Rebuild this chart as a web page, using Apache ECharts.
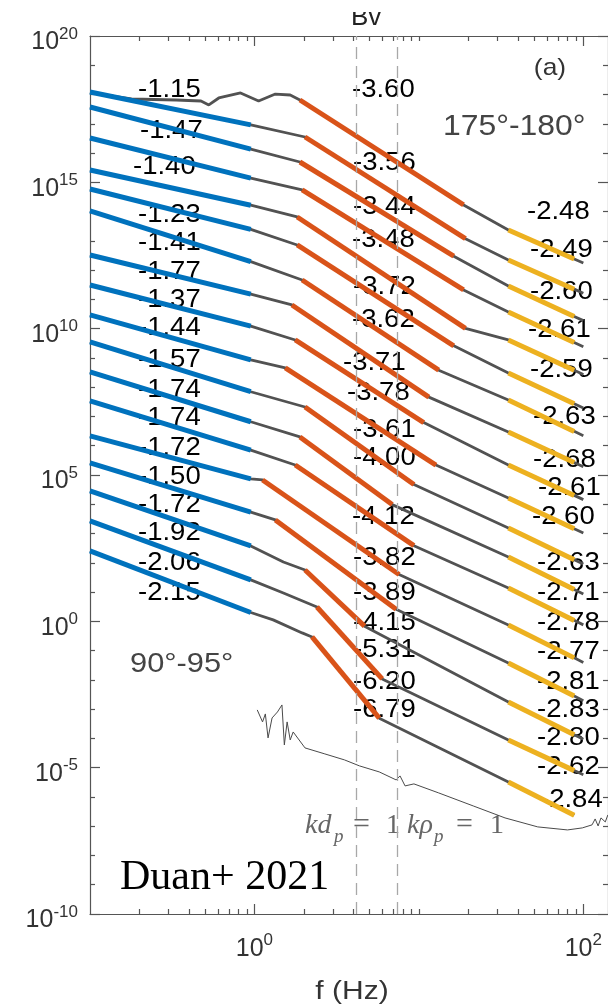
<!DOCTYPE html>
<html>
<head>
<meta charset="utf-8">
<script src="https://cdn.jsdelivr.net/npm/echarts@6.0.0/dist/echarts.min.js"></script>
<style>
  html, body { margin: 0; padding: 0; background: #fff; }
  #chart { width: 608px; height: 1005px; }
</style>
</head>
<body>
<div id="chart"></div>
<script>
// ---- Power spectra [f (Hz), PSD], one per angle bin, 175°-180° (top) to 90°-95° (bottom), shifted apart ----
const psd01 = [[0.1,1.13e18],[0.179,7.05e17],[0.334,6.50e17],[0.473,6.01e17],[0.528,4.40e17],[0.607,7.62e17],[0.823,1.13e18],[1.06,6.01e17],[1.34,1.04e18],[1.65,9.64e17],[1.89,6.50e17],[18.7,1.69e14],[35,2.36e13],[88,2.40e12],[100,1.75e12]];
const psd02 = [[0.1,1.22e18],[0.95,9.18e16],[2.03,3.54e16],[19.2,1.19e13],[35,2.22e12],[88,2.24e11],[100,1.63e11]];
const psd03 = [[0.1,3.75e17],[0.95,1.37e16],[1.89,4.95e15],[16.3,2.99e12],[35,2.88e11],[88,2.62e10],[100,1.88e10]];
const psd04 = [[0.1,3.27e16],[0.95,1.40e15],[1.95,5.48e14],[18.7,2.10e11],[35,3.72e10],[88,3.37e9],[100,2.41e9]];
const psd05 = [[0.1,2.64e15],[0.95,1.66e14],[1.82,6.55e13],[19.2,1.02e10],[35,4.11e9],[88,3.78e8],[100,2.72e8]];
const psd06 = [[0.1,5.93e14],[0.95,2.48e13],[1.82,7.24e12],[16.3,2.59e9],[35,3.06e8],[88,2.72e7],[100,1.94e7]];
const psd07 = [[0.1,1.05e14],[0.95,1.95e12],[1.95,4.61e11],[13.2,3.82e8],[35,3.66e7],[88,3.10e6],[100,2.20e6]];
const psd08 = [[0.1,3.30e12],[0.95,1.51e11],[1.69,6.46e10],[11.5,4.59e7],[35,2.96e6],[88,2.67e5],[100,1.91e5]];
const psd09 = [[0.1,3.11e11],[0.95,1.22e10],[1.77,4.11e9],[10.7,6.21e6],[35,2.20e5],[88,2.01e4],[100,1.44e4]];
const psd10 = [[0.1,2.94e10],[0.95,8.57e8],[1.54,4.54e8],[12.7,2.19e5],[35,1.64e4],[88,1.46e3],[100,1.04e3]];
const psd11 = [[0.1,3.52e9],[0.95,6.98e7],[2.03,2.11e7],[9.33,4.74e4],[35,1.55e3],[88,128],[100,90.6]];
const psd12 = [[0.1,3.32e8],[0.95,6.59e6],[1.89,2.0e6],[6.88,9.73e3],[35,158],[88,12.2],[100,8.59]];
const psd13 = [[0.1,3.39e7],[0.95,7.05e5],[1.77,2.20e5],[9.33,385],[35,13.8],[88,1.08],[100,0.757]];
const psd14 = [[0.1,2.16e6],[0.95,7.36e4],[1.12,6.78e4],[7.58,39.9],[35,0.753],[88,0.0566],[100,0.0395]];
const psd15 = [[0.1,2.58e5],[0.95,5.37e3],[1.34,2.91e3],[7.27,2.61],[35,0.0379],[88,2.80e-3],[100,1.95e-3]];
const psd16 = [[0.1,2.85e4],[0.95,378],[1.50,107],[2.03,57.0],[4.67,0.682],[35,1.76e-3],[88,1.34e-4],[100,9.35e-5]];
const psd17 = [[0.1,2.69e3],[0.95,26.0],[1.50,9.33],[2.40,3.10],[5.98,0.0108],[35,8.87e-5],[88,7.94e-6],[100,5.69e-6]];
const psd18 = [[0.1,254],[0.95,2.0],[1.30,1.12],[1.95,0.402],[2.24,0.293],[5.74,4.92e-4],[35,3.26e-6],[88,2.38e-7]];
const spectra = [psd01,psd02,psd03,psd04,psd05,psd06,psd07,psd08,psd09,psd10,psd11,psd12,psd13,psd14,psd15,psd16,psd17,psd18];

// Instrument noise floor
const noiseFloor = [[1.04,9.4e-4],[1.12,3.66e-4],[1.165,6.86e-4],[1.21,1.04e-4],[1.28,5.0e-4],[1.38,8.0e-4],[1.47,1.39e-3],[1.52,5.98e-5],[1.58,3.66e-4],[1.65,8.87e-5],[1.72,1.66e-4],[2.03,4.73e-5],[2.68,2.95e-5],[3.53,1.84e-5],[4.35,1.15e-5],[5.74,7.16e-6],[7.27,3.82e-6],[7.68,5.22e-6],[8.24,2.38e-6],[9.33,2.79e-6],[13.2,1.37e-6],[21.4,4.93e-7],[33.4,1.92e-7],[52.8,9.46e-8],[80.1,7.46e-8],[98.6,8.75e-8],[113,1.11e-7],[118,1.77e-7],[123,1.02e-7],[128,1.92e-7],[136,1.40e-7],[141,2.43e-7]];

// Low-frequency power-law fits (spectra 2..18), band 0.1-0.95 Hz
const lowBand = [0.1, 0.95];
const lowStart = [1.22e18,3.75e17,3.27e16,2.64e15,5.93e14,1.05e14,3.30e12,3.11e11,2.94e10,3.52e9,3.32e8,3.39e7,2.16e6,2.58e5,2.85e4,2.69e3,254];
const lowSlope = [-1.15,-1.47,-1.40,-1.23,-1.41,-1.77,-1.37,-1.44,-1.57,-1.74,-1.74,-1.72,-1.50,-1.72,-1.92,-2.06,-2.15];

// Transition-range fits (all spectra)
const midF0 = [1.89,2.03,1.89,1.95,1.82,1.82,1.95,1.69,1.77,1.54,2.03,1.89,1.77,1.12,1.34,2.03,2.40,2.24];
const midF1 = [18.7,19.2,16.3,18.7,19.2,16.3,13.2,11.5,10.7,12.7,9.33,6.88,9.33,7.58,7.27,4.67,5.98,5.74];
const midStart = [6.50e17,3.54e16,4.95e15,5.48e14,6.55e13,7.24e12,4.61e11,6.46e10,4.11e9,4.54e8,2.11e7,2.0e6,2.20e5,6.78e4,2.91e3,57.0,3.10,0.293];
const midSlope = [-3.60,-3.56,-3.44,-3.48,-3.72,-3.62,-3.71,-3.78,-3.61,-3.62,-4.00,-4.12,-3.82,-3.89,-4.15,-5.31,-6.20,-6.79];
const midUnlabeled = [9];

// High-frequency fits (all spectra), band 35-88 Hz
const highBand = [35, 88];
const highStart = [2.36e13,2.22e12,2.88e11,3.72e10,4.11e9,3.06e8,3.66e7,2.96e6,2.20e5,1.64e4,1.55e3,158,13.8,0.753,0.0379,1.76e-3,8.87e-5,3.26e-6];
const highSlope = [-2.48,-2.49,-2.60,-2.61,-2.59,-2.63,-2.68,-2.61,-2.60,-2.63,-2.71,-2.78,-2.77,-2.81,-2.83,-2.80,-2.62,-2.84];

// Characteristic frequencies kd_p = 1 and k rho_p = 1 (Hz)
const fKdp = 4.17;
const fKrhop = 7.47;

// Axis ranges (decades)
const xDecades = [-1, 2.15];
const yDecades = [-10, 20];
const xLabelDecades = [0, 2];

// ---- Layout of printed slope values (left x, centre y, px) ----
const lowLabelXY = [[138,90],[140,131],[133,167],[138,215],[138,243],[138,272],[138,300],[138,328],[138,360],[138,390],[138,418],[138,448],[138,477],[138,505],[138,533],[138,563],[138,593]];
const midLabelXY = [[352,90],[353,163],[353,207],[352,240],[353,287],[352,320],[343,363],[347,393],[353,430],null,[353,458],[352,517],[353,558],[353,593],[353,623],[353,650],[353,682],[353,710]];
const highLabelXY = [[527,212],[530,250],[530,292],[528,330],[530,370],[533,417],[533,460],[538,488],[532,517],[537,563],[537,593],[537,623],[537,652],[537,682],[537,710],[537,738],[537,767],[540,800]];

const LG = Math.log10;
const toXY = pts => pts.map(([f, p]) => [LG(f), LG(p)]);
function powerLaw(f0, f1, p0, slope) {
  return [[LG(f0), LG(p0)], [LG(f1), LG(p0) + slope * (LG(f1) - LG(f0))]];
}

const BLUE = '#0072BD', ORANGE = '#D95319', YELLOW = '#EDB120';
const AX = '#555';
const SANS = '"Liberation Sans", Arial, Helvetica, sans-serif';
const SERIF = '"Liberation Serif", "Times New Roman", serif';

const series = [];

spectra.forEach((s, i) => {
  series.push({
    name: 'spec' + (i + 1), type: 'line', data: toXY(s), showSymbol: false, silent: true, z: 2,
    lineStyle: { color: '#525252', width: 2.8 }
  });
});

series.push({
  name: 'noise', type: 'line', data: toXY(noiseFloor), showSymbol: false, silent: true, z: 2,
  lineStyle: { color: '#4a4a4a', width: 1 },
  markLine: {
    silent: true, symbol: ['none', 'none'], label: { show: false },
    lineStyle: { color: '#a8a8a8', width: 1.3, type: [12, 7] },
    data: [{ xAxis: LG(fKdp) }, { xAxis: LG(fKrhop) }]
  }
});

function fitSeries(data, color) {
  return { type: 'line', data, showSymbol: false, silent: true, z: 3,
           lineStyle: { color, width: 5, cap: 'butt' } };
}
lowStart.forEach((p, i) => series.push(fitSeries(powerLaw(lowBand[0], lowBand[1], p, lowSlope[i]), BLUE)));
midStart.forEach((p, i) => series.push(fitSeries(powerLaw(midF0[i], midF1[i], p, midSlope[i]), ORANGE)));
highStart.forEach((p, i) => series.push(fitSeries(powerLaw(highBand[0], highBand[1], p, highSlope[i]), YELLOW)));

// ---- Text ----
const graphics = [];
function txt(text, x, y, o) {
  o = o || {};
  graphics.push({
    type: 'text', x, y, z: o.z || 1, silent: true, scaleX: o.sx || 1,
    style: { text, font: o.font || ('25px ' + SANS), fill: o.fill || '#000',
             align: o.align || 'left', verticalAlign: o.va || 'middle' }
  });
}
const slopeText = v => v.toFixed(2);
lowSlope.forEach((v, i) => txt(slopeText(v), lowLabelXY[i][0], lowLabelXY[i][1], { sx: 1.1 }));
midSlope.forEach((v, i) => { if (!midUnlabeled.includes(i)) txt(slopeText(v), midLabelXY[i][0], midLabelXY[i][1], { sx: 1.1 }); });
highSlope.forEach((v, i) => txt(slopeText(v), highLabelXY[i][0], highLabelXY[i][1], { sx: 1.1 }));

txt('(a)', 550, 68, { font: '24px ' + SANS, fill: '#333', align: 'center', sx: 1.1 });
txt('175°-180°', 443, 127, { font: '29px ' + SANS, fill: '#444', sx: 1.1 });
txt('90°-95°', 130, 664, { font: '28px ' + SANS, fill: '#444', sx: 1.1 });
txt('f (Hz)', 352, 992, { font: '25px ' + SANS, fill: '#333', align: 'center', sx: 1.2 });
txt('Duan+ 2021', 120, 899, { font: '42px ' + SERIF, fill: '#000', va: 'bottom' });

// Title of the panel above, cut by the page edge
txt('Bv', 351, 31, { font: '26px ' + SANS, fill: '#222', va: 'bottom' });
graphics.push({ type: 'rect', z: 2, silent: true, shape: { x: 340, y: 0, width: 60, height: 12 }, style: { fill: '#fff' } });

// kd_p = 1   and   k rho_p = 1
const LX = { fill: '#666', va: 'bottom' };
txt('kd', 305, 840, Object.assign({ font: 'italic 28px ' + SERIF }, LX));
txt('p', 334, 846, Object.assign({ font: 'italic 19px ' + SERIF }, LX));
txt('=', 353, 840, Object.assign({ font: '30px ' + SERIF }, LX));
txt('1', 386, 840, Object.assign({ font: '28px ' + SERIF }, LX));
txt('kρ', 407, 840, Object.assign({ font: 'italic 28px ' + SERIF }, LX));
txt('p', 434, 846, Object.assign({ font: 'italic 19px ' + SERIF }, LX));
txt('=', 456, 840, Object.assign({ font: '30px ' + SERIF }, LX));
txt('1', 490, 840, Object.assign({ font: '28px ' + SERIF }, LX));

// ---- Axes ----
const minorX = [];
for (let d = -1; d <= 2; d++) for (let k = 1; k <= 9; k++) {
  const v = LG(k) + d;
  if (v > xDecades[0] && v < xDecades[1] && !xLabelDecades.includes(v)) minorX.push(v);
}
const tickLine = { color: AX, width: 1.2 };
const powRich = {
  b: { fontSize: 25, fontFamily: SANS, color: '#333', lineHeight: 34 },
  s: { fontSize: 17, fontFamily: SANS, color: '#333', lineHeight: 17, verticalAlign: 'top' }
};
function xAx(pos, major) {
  return {
    type: 'value', position: pos, min: xDecades[0], max: xDecades[1], interval: 1,
    axisLine: { show: major, onZero: false, lineStyle: tickLine },
    axisTick: { show: true, inside: true, length: major ? 10 : 5, lineStyle: tickLine,
                customValues: major ? xLabelDecades : minorX },
    axisLabel: (major && pos === 'bottom') ? {
      show: true, customValues: xLabelDecades, margin: 18, rich: powRich,
      formatter: v => xLabelDecades.includes(v) ? '{b|10}{s|' + v + '}' : ''
    } : { show: false },
    splitLine: { show: false }
  };
}
function yAx(pos) {
  return {
    type: 'value', position: pos, min: yDecades[0], max: yDecades[1], interval: 5,
    axisLine: { show: true, onZero: false, lineStyle: tickLine },
    axisTick: { show: true, inside: true, length: 10, lineStyle: tickLine },
    minorTick: { show: true, splitNumber: 5, length: 5, lineStyle: tickLine },
    axisLabel: pos === 'left' ? {
      show: true, margin: 12, rich: powRich, padding: [13, 0, 0, 0],
      formatter: v => '{b|10}{s|' + v + '}'
    } : { show: false },
    splitLine: { show: false }, minorSplitLine: { show: false }
  };
}

const chart = echarts.init(document.getElementById('chart'), null, { renderer: 'canvas', width: 608, height: 1005 });
chart.setOption({
  animation: false,
  backgroundColor: '#fff',
  grid: { left: 90, right: -3, top: 36, bottom: 91, containLabel: false },
  xAxis: [xAx('bottom', true), xAx('bottom', false), xAx('top', true), xAx('top', false)],
  yAxis: [yAx('left'), yAx('right')],
  series,
  graphic: { elements: graphics }
});
</script>
</body>
</html>
